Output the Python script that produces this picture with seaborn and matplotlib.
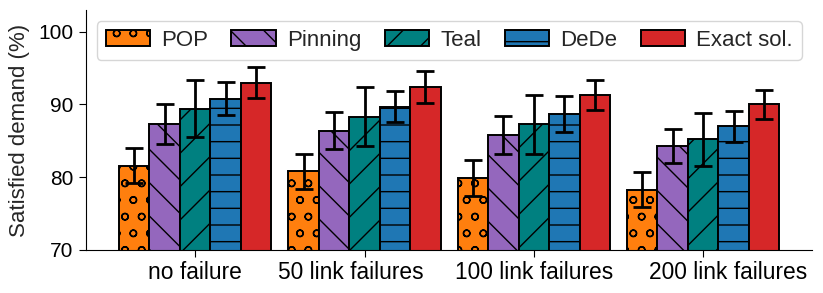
import numpy as np
import pandas as pd
import matplotlib
matplotlib.use("Agg")
import matplotlib.pyplot as plt
import matplotlib.transforms as mtransforms
import seaborn as sns

scenarios = ["no failure", "50 link failures", "100 link failures", "200 link failures"]
methods = ["POP", "Pinning", "Teal", "DeDe", "Exact sol."]

# mean satisfied demand (%) per method, one value per scenario
pop = [81.6, 80.8, 79.9, 78.3]
pinning = [87.3, 86.4, 85.8, 84.3]
teal = [89.4, 88.3, 87.3, 85.2]
dede = [90.8, 89.7, 88.7, 87.0]
exact = [93.0, 92.4, 91.3, 90.0]

# half-width of the error bars
pop_err = [2.4, 2.4, 2.5, 2.35]
pinning_err = [2.7, 2.5, 2.6, 2.35]
teal_err = [3.9, 4.05, 4.05, 3.6]
dede_err = [2.25, 2.15, 2.45, 2.1]
exact_err = [2.15, 2.2, 2.1, 2.0]

colors = ["#ff7f0e", "#9467bd", "#008080", "#1f77b4", "#d62728"]
hatches = ["o", "\\", "/", "-", ""]

values = [pop, pinning, teal, dede, exact]
errors = [pop_err, pinning_err, teal_err, dede_err, exact_err]

rows = []
for m, vals, errs in zip(methods, values, errors):
    for s, v, e in zip(scenarios, vals, errs):
        rows.append({"scenario": s, "method": m, "value": v, "err": e})
df = pd.DataFrame(rows)

sns.set_style("ticks")
plt.rcParams["font.family"] = ["Liberation Sans", "DejaVu Sans"]
plt.rcParams["hatch.linewidth"] = 1.0

fig = plt.figure(figsize=(8.23, 2.93), dpi=100)
ax = fig.add_axes([0.1045, 0.147, 0.8825, 0.819])

sns.barplot(data=df, x="scenario", y="value", hue="method", order=scenarios,
            hue_order=methods, palette=colors, saturation=1, width=0.9,
            errorbar=None, edgecolor="black", linewidth=1.4, ax=ax)

for cont, h, m in zip(ax.containers, hatches, methods):
    sub = df[df["method"] == m].set_index("scenario").loc[scenarios]
    xs = []
    for bar in cont:
        bar.set_hatch(h)
        xs.append(bar.get_x() + bar.get_width() / 2)
    ax.errorbar(xs, sub["value"], yerr=sub["err"], fmt="none", ecolor="black",
                elinewidth=2.0, capsize=6.5, capthick=2.0, zorder=5)

ax.set_ylim(70, 103)
ax.set_yticks([70, 80, 90, 100])
ax.set_xlabel("")
ax.set_ylabel("Satisfied demand (%)", fontsize=16, labelpad=6)
ax.tick_params(axis="y", labelsize=15, colors="black", length=5, pad=4)
ax.tick_params(axis="x", labelsize=16.4, colors="black", length=5, pad=3)
sns.despine(ax=ax)
for sp in ["left", "bottom"]:
    ax.spines[sp].set_color("black")

# the reference nudges a couple of category labels sideways
shifts_px = [0, -14, 0, 25]
for lab, dx in zip(ax.get_xticklabels(), shifts_px):
    off = mtransforms.ScaledTranslation(dx / fig.dpi, 0, fig.dpi_scale_trans)
    lab.set_transform(lab.get_transform() + off)

ax.legend(ax.containers, methods, ncol=5, loc="upper center", fontsize=16,
          columnspacing=1.05, handletextpad=0.5)

fig.savefig("out.png", dpi=100)
